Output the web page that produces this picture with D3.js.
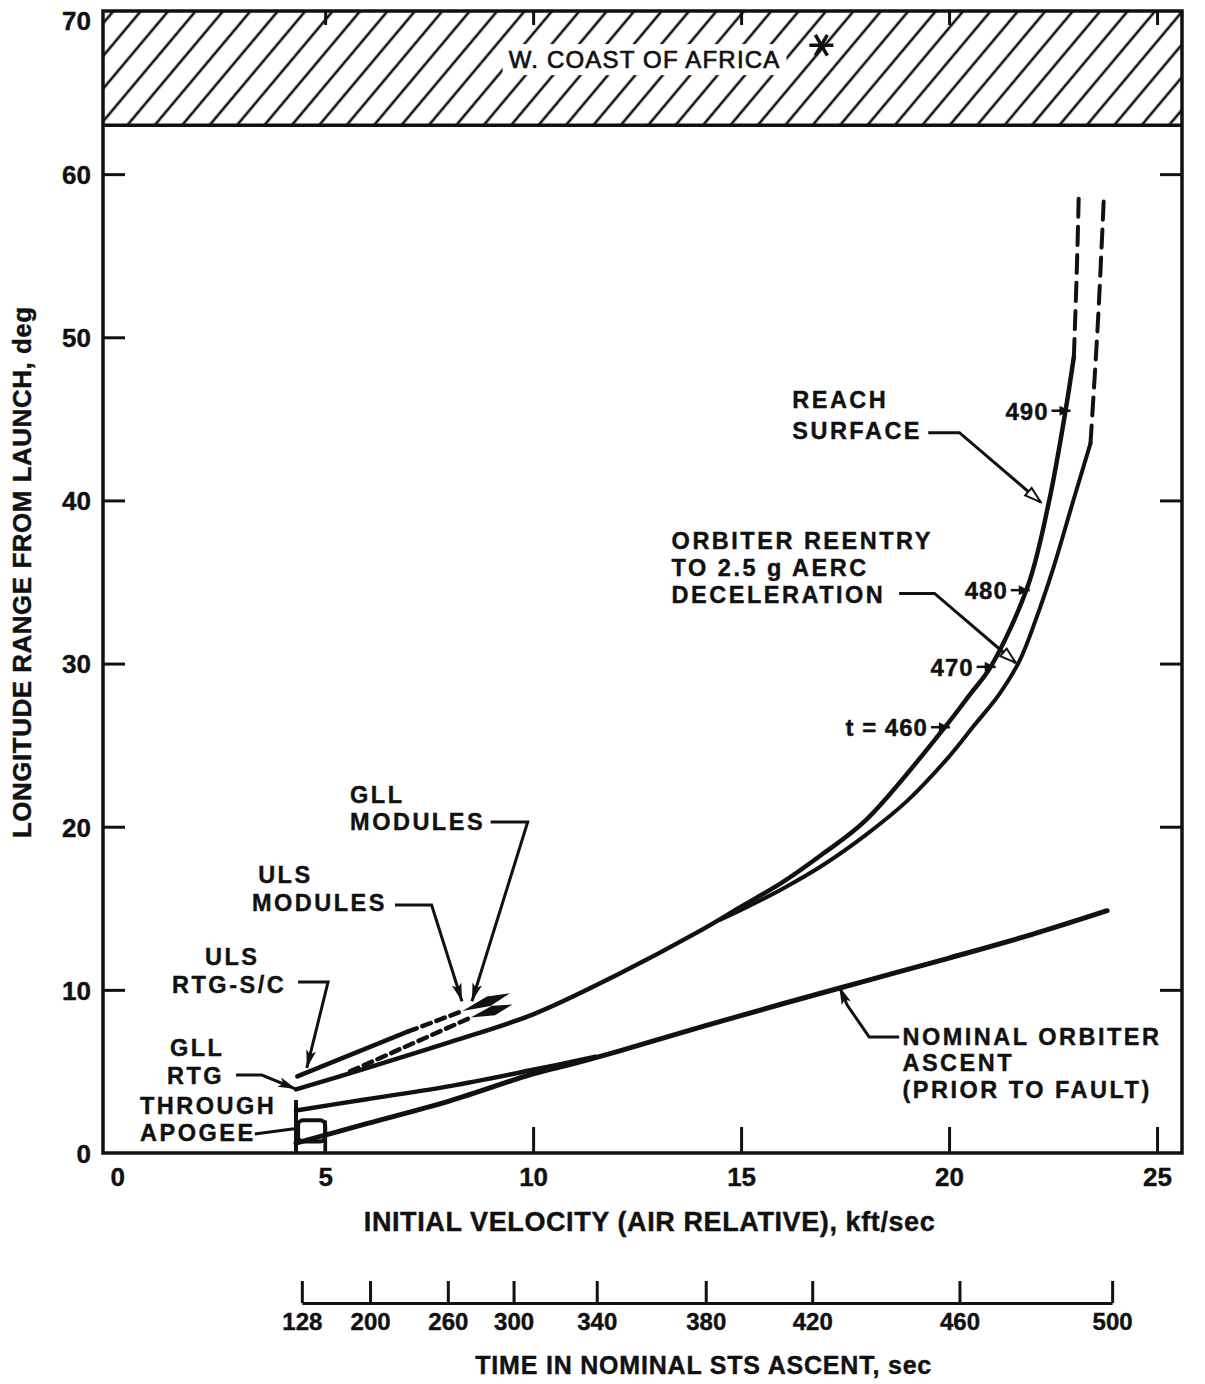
<!DOCTYPE html>
<html>
<head>
<meta charset="utf-8">
<script src="https://cdn.jsdelivr.net/npm/d3@7"></script>
<style>
body { margin: 0; background: #fff; }
text { font-family: "Liberation Sans", Arial, sans-serif; font-weight: bold; fill: #111; stroke: #111; stroke-width: 0.4px; }
</style>
</head>
<body>
<script>
// initial velocity (kft/sec) vs longitude range from launch (deg)
var reachX = [4.3, 6, 8, 10, 12, 14, 15, 16, 17, 18, 19.9, 20.5, 21.0, 21.9, 22.4, 22.8, 23.0];
var reachY = [3.9, 5.2, 6.8, 8.5, 10.9, 13.6, 15.1, 16.6, 18.4, 20.4, 26.1, 28.1, 29.8, 34.8, 39.9, 45.5, 48.8];
var reachDashX = [23.0, 23.07, 23.12];
var reachDashY = [48.8, 54.0, 58.9];

var decelX = [14.5, 15, 16, 17, 18, 19, 20, 20.6, 21.2, 21.7, 22.1, 22.5, 23.0, 23.4];
var decelY = [14.3, 14.9, 16.2, 17.7, 19.5, 21.6, 24.3, 26.2, 28.1, 30.2, 32.8, 35.8, 40.1, 43.5];
var decelDashX = [23.4, 23.58, 23.72];
var decelDashY = [43.5, 51.0, 58.5];

var ascentX = [4.3, 6, 8, 10, 11, 12, 14, 16, 18, 20, 22, 23.8];
var ascentY = [0.6, 1.8, 3.2, 4.85, 5.5, 6.2, 7.7, 9.15, 10.55, 11.95, 13.4, 14.85];

var apogeeX = [4.3, 6, 8, 10, 11.5];
var apogeeY = [2.6, 3.3, 4.1, 5.1, 5.9];

var ulsRtgX = [4.33, 7.0];
var ulsRtgY = [4.7, 7.45];
var ulsRtgDashX = [7.0, 8.3];
var ulsRtgDashY = [7.45, 8.7];

var gllModX = [5.6, 8.5];
var gllModY = [5.0, 8.3];

// arrow leaves at the ends of the module lines
var leafX0 = [8.3, 8.5], leafY0 = [8.7, 8.3];
var leafX1 = [9.45, 9.5], leafY1 = [9.8, 9.1];

// time marks on the reentry curve, sec
var markT = ["t = 460", "470", "480", "490"];
var markX = [19.9, 21.0, 21.82, 22.8];
var markY = [26.1, 29.8, 34.5, 45.5];

var xTicks = [0, 5, 10, 15, 20, 25];
var yTicks = [0, 10, 20, 30, 40, 50, 60, 70];
var yTicksRight = [10, 20, 30, 40, 60];

// time in nominal STS ascent and the velocity it lines up with
var timeTicks = [128, 200, 260, 300, 340, 380, 420, 460, 500];
var timeVel = [4.44, 6.08, 7.95, 9.53, 11.53, 14.15, 16.71, 20.25, 23.92];

var coastLow = 63, coastHigh = 70;

// labels: text lines, left x, baseline y (data units)
var notes = [
  {lines: ["REACH", "SURFACE"], xs: [16.23, 16.23], ys: [45.65, 43.75]},
  {lines: ["ORBITER REENTRY", "TO 2.5 g AERC", "DECELERATION"], xs: [13.33, 13.33, 13.33], ys: [37.0, 35.38, 33.72]},
  {lines: ["GLL", "MODULES"], xs: [5.6, 5.6], ys: [21.43, 19.77]},
  {lines: ["ULS", "MODULES"], xs: [3.39, 3.24], ys: [16.52, 14.81]},
  {lines: ["ULS", "RTG-S/C"], xs: [2.11, 1.32], ys: [11.5, 9.78]},
  {lines: ["GLL", "RTG"], xs: [1.27, 1.2], ys: [5.92, 4.26]},
  {lines: ["THROUGH", "APOGEE"], xs: [0.55, 0.55], ys: [2.42, 0.71]},
  {lines: ["NOMINAL ORBITER", "ASCENT", "(PRIOR TO FAULT)"], xs: [18.88, 18.88, 18.88], ys: [6.62, 5.03, 3.37]}
];

var leaders = [
  {pts: [[19.5, 44.15], [20.25, 44.15], [22.2, 39.9]], head: "open"},
  {pts: [[18.8, 34.3], [19.65, 34.3], [21.6, 30.05]], head: "open"},
  {pts: [[8.98, 20.29], [9.87, 20.29], [8.53, 9.3]], head: "solid"},
  {pts: [[6.68, 15.2], [7.56, 15.2], [8.29, 9.3]], head: "solid"},
  {pts: [[4.35, 10.48], [5.07, 10.48], [4.56, 5.21]], head: "solid"},
  {pts: [[2.86, 4.78], [3.48, 4.78], [4.3, 3.92]], head: "solid"},
  {pts: [[3.31, 1.16], [4.39, 1.53]], head: "none"},
  {pts: [[18.8, 7.11], [18.08, 7.11], [17.55, 9.07], [17.36, 10.2]], head: "solid"}
];

var width = 1205, height = 1384;
var svg = d3.select("body").append("svg")
  .attr("width", width)
  .attr("height", height);

var x = d3.scaleLinear().domain([-0.34, 25.6]).range([103, 1182]);
var y = d3.scaleLinear().domain([0, 70]).range([1153, 11]);

var defs = svg.append("defs");
var pat = defs.append("pattern")
  .attr("id", "hatch")
  .attr("patternUnits", "userSpaceOnUse")
  .attr("width", 21).attr("height", 21)
  .attr("patternTransform", "rotate(40)");
pat.append("line")
  .attr("x1", 10).attr("y1", 0).attr("x2", 10).attr("y2", 21)
  .attr("stroke", "#111").attr("stroke-width", 2.6);

defs.append("marker")
  .attr("id", "solid").attr("viewBox", "-20 -6 22 12")
  .attr("markerUnits", "userSpaceOnUse")
  .attr("markerWidth", 22).attr("markerHeight", 12)
  .attr("refX", 0).attr("refY", 0).attr("orient", "auto")
  .append("path").attr("d", "M0,0 L-18,-5 L-14,0 L-18,5 Z").attr("fill", "#111");
defs.append("marker")
  .attr("id", "open").attr("viewBox", "-20 -7 22 14")
  .attr("markerUnits", "userSpaceOnUse")
  .attr("markerWidth", 22).attr("markerHeight", 14)
  .attr("refX", 0).attr("refY", 0).attr("orient", "auto")
  .append("path").attr("d", "M0,0 L-16,-5 L-16,5 Z")
  .attr("fill", "#fff").attr("stroke", "#111").attr("stroke-width", 2);

// coast band
svg.append("rect")
  .attr("x", x(-0.34)).attr("y", y(coastHigh))
  .attr("width", x(25.6) - x(-0.34)).attr("height", y(coastLow) - y(coastHigh))
  .attr("fill", "url(#hatch)");
svg.append("line")
  .attr("x1", x(-0.34)).attr("x2", x(25.6))
  .attr("y1", y(coastLow)).attr("y2", y(coastLow))
  .attr("stroke", "#111").attr("stroke-width", 3.5);

var coastLabel = svg.append("text")
  .attr("x", x(12.68)).attr("y", y(66.5))
  .attr("text-anchor", "middle")
  .attr("font-size", 24)
  .attr("letter-spacing", 1.2)
  .style("font-weight", "normal")
  .style("stroke-width", "0.7px")
  .text("W. COAST OF AFRICA");
var bb = coastLabel.node().getBBox();
svg.insert("rect", "text")
  .attr("x", bb.x - 6).attr("y", bb.y - 2)
  .attr("width", bb.width + 12).attr("height", bb.height + 4)
  .attr("fill", "#fff");

// asterisk marker for the coast
var sx = x(16.93), sy = y(67.9);
[0, 60, 120].forEach(function(a) {
  var r = a * Math.PI / 180;
  svg.append("line")
    .attr("x1", sx - 12 * Math.cos(r)).attr("y1", sy - 12 * Math.sin(r))
    .attr("x2", sx + 12 * Math.cos(r)).attr("y2", sy + 12 * Math.sin(r))
    .attr("stroke", "#111").attr("stroke-width", 3.5);
});

// frame
svg.append("rect")
  .attr("x", x(-0.34)).attr("y", y(70))
  .attr("width", x(25.6) - x(-0.34)).attr("height", y(0) - y(70))
  .attr("fill", "none").attr("stroke", "#111").attr("stroke-width", 3.5);

// axes
var yAxis = svg.append("g")
  .attr("transform", "translate(" + x(-0.34) + ",0)")
  .call(d3.axisLeft(y).tickValues(yTicks).tickSizeInner(-22).tickSizeOuter(0).tickPadding(12));
var yAxisR = svg.append("g")
  .attr("transform", "translate(" + x(25.6) + ",0)")
  .call(d3.axisRight(y).tickValues(yTicksRight).tickSizeInner(-22).tickSizeOuter(0).tickFormat(""));
var xAxis = svg.append("g")
  .attr("transform", "translate(0," + y(0) + ")")
  .call(d3.axisBottom(x).tickValues(xTicks).tickSizeInner(-26).tickSizeOuter(0).tickPadding(15));
var xAxisTop = svg.append("g")
  .attr("transform", "translate(0," + y(70) + ")")
  .call(d3.axisTop(x).tickValues(xTicks.slice(1)).tickSizeInner(-14).tickSizeOuter(0).tickFormat(""));

[yAxis, yAxisR, xAxis, xAxisTop].forEach(function(g) {
  g.select(".domain").remove();
  g.selectAll(".tick line").attr("stroke", "#111").attr("stroke-width", 3);
  g.selectAll("text").attr("font-size", 26).attr("fill", "#111")
    .style("font-family", "'Liberation Sans', Arial, sans-serif").style("font-weight", "bold");
});
xAxis.selectAll(".tick").filter(function(d) { return d === 0; }).select("line").remove();
yAxis.selectAll(".tick").filter(function(d) { return d === 0 || d === 70; }).select("line").remove();
yAxis.selectAll("text").attr("dy", "0.36em");
yAxis.selectAll(".tick").filter(function(d) { return d === 70; }).select("text").attr("dy", "0.7em");

// axis titles
svg.append("text")
  .attr("x", x(12.8)).attr("y", 1231)
  .attr("text-anchor", "middle").attr("font-size", 27)
  .attr("letter-spacing", 0.6)
  .text("INITIAL VELOCITY (AIR RELATIVE), kft/sec");
svg.append("text")
  .attr("transform", "translate(31," + y(35.6) + ") rotate(-90)")
  .attr("text-anchor", "middle").attr("font-size", 26)
  .attr("letter-spacing", 0.5)
  .text("LONGITUDE RANGE FROM LAUNCH, deg");

// time axis
var t = d3.scaleLinear().domain(timeTicks).range(timeVel.map(function(v) { return x(v); }));
var tAxis = svg.append("g")
  .attr("transform", "translate(0,1303)")
  .call(d3.axisBottom(t).tickValues(timeTicks).tickSizeInner(-22).tickSizeOuter(0).tickPadding(10));
tAxis.select(".domain").attr("stroke", "#111").attr("stroke-width", 3);
tAxis.selectAll(".tick line").attr("stroke", "#111").attr("stroke-width", 3);
tAxis.selectAll("text").attr("font-size", 24).attr("fill", "#111")
  .style("font-family", "'Liberation Sans', Arial, sans-serif").style("font-weight", "bold");
svg.append("text")
  .attr("x", x(14.1)).attr("y", 1374)
  .attr("text-anchor", "middle").attr("font-size", 25)
  .attr("letter-spacing", 0.8)
  .text("TIME IN NOMINAL STS ASCENT, sec");

// curves
var zip = function(xs, ys) { return xs.map(function(v, i) { return [v, ys[i]]; }); };
var curve = d3.line()
  .x(function(d) { return x(d[0]); })
  .y(function(d) { return y(d[1]); })
  .curve(d3.curveCatmullRom.alpha(0.5));
var straight = d3.line()
  .x(function(d) { return x(d[0]); })
  .y(function(d) { return y(d[1]); });

var series = [
  {d: zip(reachX, reachY), w: 4.5, dash: null},
  {d: zip(reachDashX, reachDashY), w: 4, dash: "18,10"},
  {d: zip(decelX, decelY), w: 4, dash: null},
  {d: zip(decelDashX, decelDashY), w: 4, dash: "18,10"},
  {d: zip(ascentX, ascentY), w: 5, dash: null},
  {d: zip(apogeeX, apogeeY), w: 4.5, dash: null},
  {d: zip(ulsRtgX, ulsRtgY), w: 4.5, dash: null},
  {d: zip(ulsRtgDashX, ulsRtgDashY), w: 4.5, dash: "9,6"},
  {d: zip(gllModX, gllModY), w: 4.5, dash: "9,6"}
];
svg.selectAll("path.series")
  .data(series)
  .enter()
  .append("path")
  .attr("class", "series")
  .attr("d", function(s) { return curve(s.d); })
  .attr("fill", "none")
  .attr("stroke", "#111")
  .attr("stroke-width", function(s) { return s.w; })
  .attr("stroke-dasharray", function(s) { return s.dash; })
  .attr("stroke-linecap", "round");

// leaf arrow tips
leafX0.forEach(function(v, i) {
  var ax = x(v), ay = y(leafY0[i]), bx = x(leafX1[i]), by = y(leafY1[i]);
  var dx = bx - ax, dy = by - ay, len = Math.sqrt(dx * dx + dy * dy);
  var nx = -dy / len * 5, ny = dx / len * 5;
  var mx = ax + dx * 0.55, my = ay + dy * 0.55;
  svg.append("path")
    .attr("d", "M" + ax + "," + ay + "L" + (mx + nx) + "," + (my + ny) + "L" + bx + "," + by +
      "L" + (mx - nx) + "," + (my - ny) + "Z")
    .attr("fill", "#111");
});

// apogee bracket
svg.append("path")
  .attr("d", straight([[4.3, 0], [4.3, 3.25]]))
  .attr("stroke", "#111").attr("stroke-width", 4);
svg.append("path")
  .attr("d", straight([[5.0, 0], [5.0, 2.0]]))
  .attr("stroke", "#111").attr("stroke-width", 3.5);
svg.append("rect")
  .attr("x", x(4.35)).attr("y", y(2.0))
  .attr("width", x(5.0) - x(4.35)).attr("height", y(0.7) - y(2.0))
  .attr("rx", 5)
  .attr("fill", "none").attr("stroke", "#111").attr("stroke-width", 4);

// time marks
markX.forEach(function(v, i) {
  var px = x(v), py = y(markY[i]);
  svg.append("line")
    .attr("x1", px - 14).attr("x2", px + 5).attr("y1", py).attr("y2", py)
    .attr("stroke", "#111").attr("stroke-width", 2.5);
  svg.append("path")
    .attr("d", "M" + (px + 4) + "," + py + "L" + (px - 6) + "," + (py - 5) + "L" + (px - 6) + "," + (py + 5) + "Z")
    .attr("fill", "#111");
  svg.append("text")
    .attr("x", px - 17).attr("y", py + 9)
    .attr("text-anchor", "end").attr("font-size", 24)
    .attr("letter-spacing", 1)
    .text(markT[i]);
});

// leaders
leaders.forEach(function(l) {
  svg.append("path")
    .attr("d", straight(l.pts))
    .attr("fill", "none")
    .attr("stroke", "#111")
    .attr("stroke-width", 3)
    .attr("marker-end", l.head === "none" ? null : "url(#" + l.head + ")");
});

// labels
notes.forEach(function(n) {
  n.lines.forEach(function(s, i) {
    svg.append("text")
      .attr("x", x(n.xs[i])).attr("y", y(n.ys[i]))
      .attr("font-size", 23.5)
      .attr("letter-spacing", 2.5)
      .text(s);
  });
});
</script>
</body>
</html>
